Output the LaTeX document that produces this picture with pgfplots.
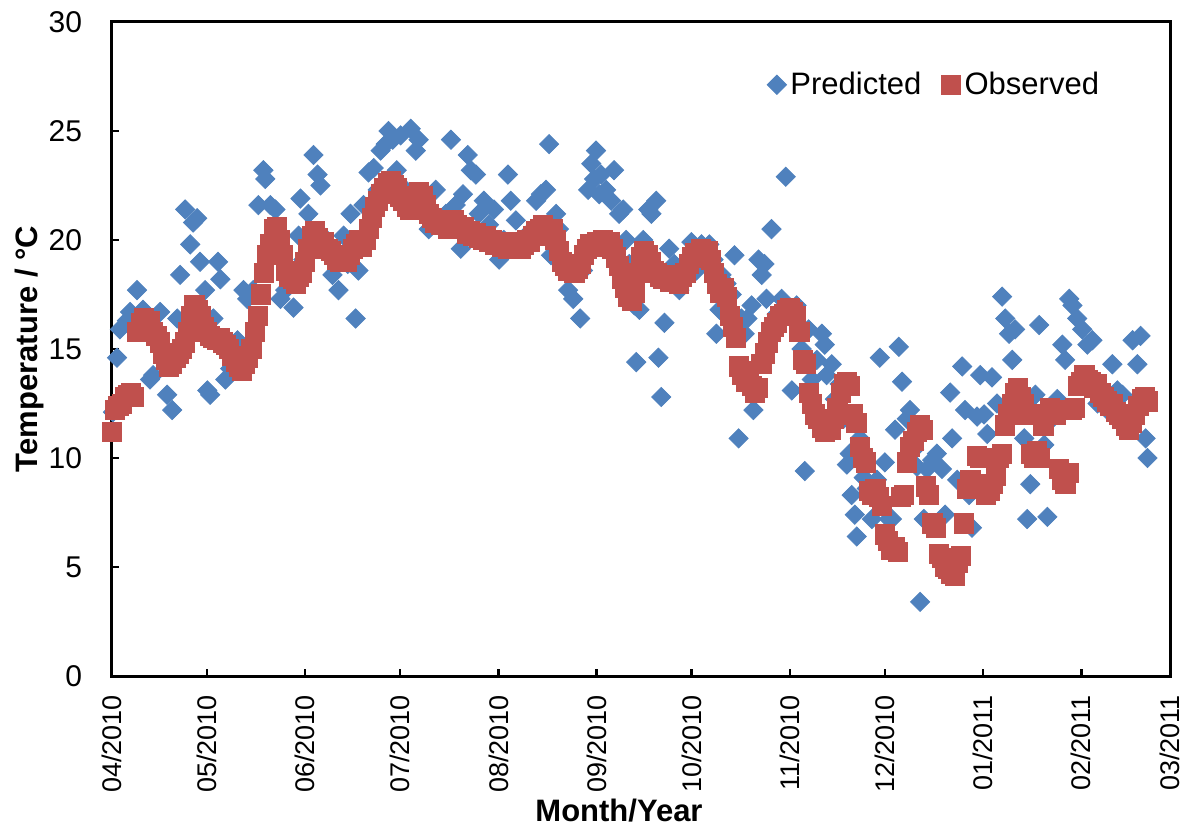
\documentclass[border=0pt]{standalone}
\usepackage{pgfplots}
\pgfplotsset{compat=1.18}
\usepackage{fontspec}
\setmainfont{Liberation Sans}
\definecolor{predblue}{HTML}{4F81BD}
\definecolor{obsred}{HTML}{C0504D}
\begin{document}
\begin{tikzpicture}
\begin{axis}[
  scale only axis,
  width=529bp, height=327bp,
  xmin=0, xmax=334, ymin=0, ymax=30,
  axis line style={line width=1.5bp},
  tick style={line width=1.2bp, black},
  tick align=inside,
  major tick length=3.5bp,
  xtick={0,30,61,91,122,153,183,214,244,275,306,334},
  xticklabels={04/2010,05/2010,06/2010,07/2010,08/2010,09/2010,10/2010,11/2010,12/2010,01/2011,02/2011,03/2011},
  ytick={0,5,10,15,20,25,30},
  xtick pos=bottom, ytick pos=left,
  /pgf/number format/assume math mode=true,
  xticklabel style={font=\fontsize{13.5bp}{16bp}\selectfont, rotate=90, anchor=east, xshift=-6bp},
  yticklabel style={font=\fontsize{15bp}{17bp}\selectfont, xshift=-11.5bp},
  xlabel={\textbf{Month/Year}},
  ylabel={\textbf{Temperature / °C}},
  label style={font=\fontsize{15.5bp}{18bp}\selectfont},
  xlabel style={yshift=3.5bp, xshift=-11bp},
  ylabel style={yshift=-4.5bp},
  legend style={at={(0.778,0.904)}, anchor=center, draw=none, fill=none,
    font=\fontsize{15.5bp}{18bp}\selectfont, legend columns=2,
    /tikz/every even column/.append style={column sep=8bp}},
  legend cell align=left,
]
\addplot[only marks, mark=square*, mark size=3.4bp, mark options={rotate=45, fill=predblue, draw=predblue}]
coordinates {
(0.3,12.1)(1.6,14.6)(2.5,15.9)(4.7,16.3)(5.7,16.7)(7.9,17.7)(9.8,16.8)(12.0,13.6)(13.0,13.8)(15.2,16.7)
(17.4,12.9)(19.0,12.2)(20.6,16.4)(21.5,18.4)(23.1,21.4)(24.7,19.8)(25.6,20.8)(26.9,21.0)(27.8,19.0)(29.4,17.7)
(30.1,13.1)(31.0,12.9)(32.0,16.4)(33.5,19.0)(34.2,18.2)(35.8,13.6)(37.3,14.1)(39.6,15.4)(41.5,17.7)(42.7,17.3)
(44.6,17.7)(46.2,21.6)(47.8,23.2)(48.4,22.8)(50.0,21.6)(51.6,21.4)(53.2,17.3)(54.7,17.7)(57.3,16.9)(58.9,20.2)
(59.5,21.9)(60.4,19.1)(62.0,21.2)(63.6,23.9)(64.9,23.0)(65.8,22.5)(66.5,20.2)(68.0,19.8)(69.6,18.4)(71.5,17.7)
(73.1,20.2)(74.4,18.9)(75.3,21.2)(76.9,16.4)(77.8,18.6)(79.4,21.6)(81.0,23.1)(82.6,23.3)(83.9,22.3)(84.8,24.1)
(86.4,24.4)(87.3,25.0)(88.6,24.6)(89.9,23.2)(91.1,24.8)(92.7,22.3)(94.3,25.1)(95.9,24.1)(96.8,24.6)(98.1,22.1)
(100.0,20.5)(102.2,22.3)(105.4,21.2)(107.0,24.6)(108.5,21.6)(110.1,19.6)(110.8,22.1)(112.3,23.9)(113.3,23.2)(114.9,23.0)
(115.8,21.2)(117.4,21.8)(119.0,20.7)(120.6,21.4)(122.2,19.1)(123.7,20.0)(125.0,23.0)(125.9,21.8)(127.5,20.9)(129.1,20.0)
(130.7,20.2)(132.3,19.8)(133.9,21.8)(135.4,22.1)(137.0,22.3)(138.0,24.4)(138.6,19.3)(140.2,21.2)(141.1,20.5)(142.4,18.9)
(144.0,17.7)(145.6,17.3)(147.8,16.4)(148.7,18.6)(150.3,22.3)(151.3,23.5)(152.2,22.8)(152.8,24.1)(153.8,22.1)(154.4,23.0)
(156.0,22.3)(157.6,21.8)(158.5,23.2)(160.1,21.2)(161.4,21.4)(162.3,20.0)(163.3,18.9)(164.9,17.0)(165.5,14.4)(166.5,16.8)
(167.7,20.0)(169.3,21.4)(170.3,21.2)(171.8,21.8)(172.5,14.6)(173.4,12.8)(174.4,16.2)(175.9,19.6)(177.5,18.9)(179.1,17.7)
(181.3,18.6)(182.9,19.9)(184.5,18.6)(186.1,19.8)(187.0,19.2)(188.6,19.8)(189.9,19.1)(190.8,15.7)(191.8,16.8)(192.4,18.4)
(194.0,18.0)(195.6,17.5)(196.5,19.3)(197.8,10.9)(198.7,16.4)(199.7,15.7)(200.6,16.4)(201.9,17.0)(202.5,12.2)(204.1,19.1)
(205.1,18.4)(206.0,18.9)(206.6,17.3)(208.2,20.5)(209.8,16.6)(211.4,17.3)(212.7,22.9)(213.6,16.8)(214.6,13.1)(216.1,17.0)
(217.7,15.0)(218.7,9.4)(219.9,15.9)(220.9,13.6)(222.5,14.5)(224.1,15.7)(225.0,15.2)(225.6,13.8)(227.2,14.3)(228.2,12.7)
(229.7,13.4)(231.0,11.8)(232.0,9.7)(232.9,10.2)(233.5,8.3)(234.5,7.4)(235.1,6.4)(236.1,10.9)(237.3,9.1)(238.3,8.6)
(239.9,7.2)(241.5,9.0)(242.4,14.6)(244.0,9.8)(245.3,7.2)(246.2,7.2)(247.2,11.3)(248.4,15.1)(249.4,13.5)(250.9,11.8)
(251.9,12.2)(253.2,10.4)(254.1,9.6)(255.1,3.4)(256.3,7.2)(257.3,9.5)(258.9,9.9)(260.4,10.2)(262.0,9.5)(263.0,7.4)
(264.6,13.0)(265.2,10.9)(266.8,9.0)(268.4,14.2)(269.3,12.2)(270.6,8.3)(271.5,6.8)(273.1,11.9)(274.1,13.8)(275.3,12.0)
(276.3,11.1)(277.8,13.7)(279.4,12.5)(281.0,17.4)(282.0,16.4)(283.2,15.7)(284.2,14.5)(285.1,15.9)(286.7,12.5)(288.0,10.9)
(288.9,7.2)(289.9,8.8)(291.5,12.9)(292.7,16.1)(294.3,10.6)(295.3,7.3)(296.8,11.8)(298.4,12.7)(300.0,15.2)(300.9,14.5)
(302.2,17.3)(303.2,17.0)(304.7,16.4)(306.3,15.9)(307.9,15.2)(309.5,15.4)(311.1,12.5)(312.7,12.7)(314.2,12.2)(315.8,14.3)
(317.4,13.1)(319.0,12.9)(320.6,12.0)(322.2,15.4)(323.7,14.3)(324.7,15.6)(325.3,12.7)(326.3,10.9)(326.9,10.0)
};
\addlegendentry{Predicted}
\addplot[only marks, mark=square*, mark size=4.8bp, mark options={fill=obsred, draw=obsred}]
table {
x y
0 11.2
1 12.2
2 12.4
3 12.5
4 12.8
5 12.9
6 13.0
7 12.8
8 15.8
9 16.2
10 16.4
11 16.0
12 16.3
13 15.8
14 15.6
15 15.3
16 14.8
17 14.5
18 14.2
19 14.3
20 14.6
21 14.8
22 15.0
23 15.3
24 15.8
25 16.5
26 17.0
27 16.8
28 16.5
29 16.0
30 15.8
31 15.6
32 15.5
33 15.4
34 15.5
35 15.3
36 15.2
37 15.0
38 14.7
39 14.4
40 14.2
41 14.0
42 14.3
43 14.6
44 15.0
45 15.8
46 16.5
47 17.5
48 18.5
49 19.3
50 19.8
51 20.5
52 20.6
53 20.0
54 19.3
55 18.6
56 18.3
57 18.2
58 18.0
59 18.3
60 18.5
61 19.0
62 19.6
63 20.2
64 20.4
65 20.1
66 19.8
67 19.9
68 19.6
69 19.5
70 19.3
71 19.1
72 19.0
73 19.2
74 19.0
75 19.3
76 19.6
77 19.8
78 20.0
79 19.7
80 20.0
81 20.5
82 21.0
83 21.5
84 21.8
85 22.1
86 22.4
87 22.6
88 22.7
89 22.5
90 22.4
91 22.0
92 21.8
93 21.5
94 21.4
95 21.6
96 22.0
97 22.2
98 22.0
99 21.6
100 21.2
101 21.0
102 20.8
103 20.9
104 20.7
105 20.8
106 20.5
107 20.6
108 20.9
109 20.7
110 20.5
111 20.6
112 20.3
113 20.4
114 20.2
115 20.3
116 20.1
117 20.0
118 20.2
119 19.9
120 20.0
121 19.8
122 19.9
123 19.7
124 19.8
125 19.6
126 19.8
127 19.9
128 19.7
129 19.6
130 19.8
131 20.0
132 19.9
133 20.2
134 20.4
135 20.5
136 20.7
137 20.4
138 20.2
139 20.5
140 20.0
141 19.5
142 19.0
143 18.8
144 18.6
145 18.9
146 18.5
147 18.7
148 18.9
149 19.3
150 19.6
151 19.8
152 19.7
153 19.9
154 19.8
155 20.0
156 19.8
157 19.9
158 19.6
159 19.2
160 18.8
161 18.2
162 17.8
163 17.4
164 17.2
165 17.6
166 18.5
167 19.2
168 19.5
169 19.3
170 19.0
171 18.6
172 18.5
173 18.3
174 18.2
175 18.4
176 18.1
177 18.3
178 18.2
179 18.0
180 18.3
181 18.5
182 18.9
183 19.2
184 19.4
185 19.3
186 19.6
187 19.4
188 19.5
189 19.1
190 18.5
191 18.0
192 17.6
193 17.8
194 17.4
195 16.5
196 16.0
197 15.5
198 14.2
199 13.8
200 13.5
201 14.0
202 13.3
203 13.0
204 13.2
205 14.3
206 14.8
207 15.3
208 15.8
209 16.0
210 16.2
211 16.5
212 16.6
213 16.8
214 16.9
215 16.7
216 16.5
217 15.8
218 14.5
219 14.3
220 13.0
221 12.5
222 12.0
223 11.8
224 11.4
225 11.2
226 11.5
227 11.3
228 11.8
229 12.3
230 13.0
231 13.4
232 13.5
233 13.3
234 12.0
235 11.6
236 10.5
237 10.0
238 9.8
239 8.5
240 8.3
241 8.6
242 8.2
243 7.8
244 6.5
245 6.2
246 5.8
247 5.9
248 5.7
249 8.2
250 8.3
251 9.8
252 10.5
253 10.8
254 11.2
255 11.5
256 11.3
257 8.7
258 8.3
259 7.0
260 6.8
261 5.6
262 5.4
263 5.0
264 4.9
265 4.7
266 4.6
267 5.2
268 5.5
269 7.0
270 8.6
271 9.0
272 8.8
273 10.1
274 10.0
275 8.6
276 8.3
277 8.5
278 8.8
279 9.2
280 10.0
281 10.2
282 11.5
283 12.0
284 12.5
285 13.0
286 13.2
287 12.8
288 12.5
289 12.0
290 10.2
291 10.0
292 10.3
293 10.0
294 11.5
295 12.0
296 12.3
297 12.2
298 12.0
299 9.5
300 9.0
301 8.8
302 9.3
303 12.2
304 12.3
305 13.3
306 13.5
307 13.8
308 13.6
309 13.5
310 13.2
311 13.4
312 13.0
313 12.8
314 12.6
315 12.4
316 12.5
317 12.1
318 12.0
319 11.8
320 11.5
321 11.3
322 11.6
323 12.0
324 12.4
325 12.7
326 12.8
327 12.6
};
\addlegendentry{Observed}
\end{axis}
\pgfresetboundingbox
\path[use as bounding box] ([shift={(-56bp,-77.5bp)}]current axis.south west) rectangle ([shift={(14.5bp,11bp)}]current axis.north east);
\end{tikzpicture}
\end{document}
